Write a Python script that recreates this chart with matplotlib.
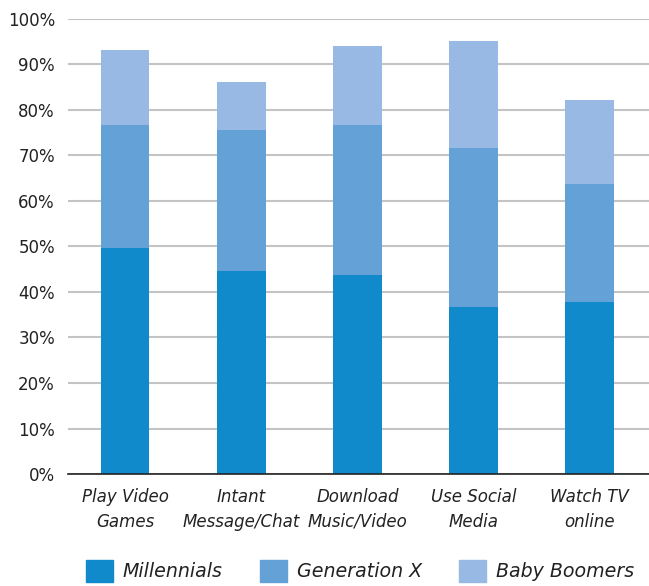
import numpy as np
import matplotlib.pyplot as plt
from matplotlib.patches import Patch

#data
categories = ["Play Video\nGames", "Intant\nMessage/Chat", "Download\nMusic/Video",
              "Use Social\nMedia", "Watch TV\nonline"]
millennials = [49.7, 44.6, 43.7, 36.7, 37.8]
generation_x = [27.0, 31.0, 33.0, 34.9, 25.9]
baby_boomers = [16.5, 10.6, 17.4, 23.6, 18.5]

colors = ["#118acb", "#64a1d6", "#97b9e3"]
names = ["Millennials", "Generation X", "Baby Boomers"]

fig = plt.figure(figsize=(6.49, 5.86), dpi=100)
ax = fig.add_axes([0.105, 0.191, 0.895, 0.777])

x = np.arange(len(categories))
w = 0.42
b2 = np.array(millennials)
b3 = b2 + np.array(generation_x)
ax.bar(x, millennials, w, color=colors[0], zorder=3)
ax.bar(x, generation_x, w, bottom=b2, color=colors[1], zorder=3)
ax.bar(x, baby_boomers, w, bottom=b3, color=colors[2], zorder=3)

ax.set_ylim(0, 100)
ax.set_xlim(-0.49, 4.51)
ax.set_yticks(range(0, 101, 10))
ax.set_yticklabels([str(v) + "%" for v in range(0, 101, 10)], fontsize=12, color="#222222")
ax.set_xticks(x)
ax.set_xticklabels(categories, fontsize=12, style="italic", color="#222222", linespacing=1.5)
ax.tick_params(axis="both", length=0)
ax.tick_params(axis="y", pad=9.5)
ax.tick_params(axis="x", pad=10)
ax.grid(axis="y", color="#c4c4c4", linewidth=1.5, zorder=0)
for s in ["top", "right", "left"]:
    ax.spines[s].set_visible(False)
ax.spines["bottom"].set_color("#222222")
ax.spines["bottom"].set_linewidth(1.2)
ax.spines["bottom"].set_zorder(4)

handles = [Patch(color=c) for c in colors]
leg = fig.legend(handles, names, loc="lower center", bbox_to_anchor=(0.555, -0.022), ncol=3,
                 frameon=False, prop={"size": 13.7, "style": "italic"},
                 handlelength=1.4, handleheight=1.4, columnspacing=1.95, handletextpad=0.55)
for t in leg.get_texts():
    t.set_color("#222222")

fig.savefig("out.png", dpi=100)
